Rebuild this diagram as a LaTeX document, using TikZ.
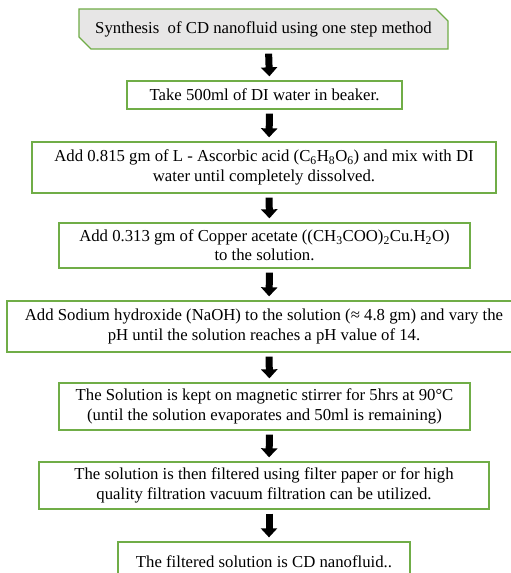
\documentclass[tikz,border=0pt]{standalone}
\usepackage{fontspec}
\setmainfont{Liberation Serif}
\usetikzlibrary{arrows.meta,shapes.misc}

\definecolor{boxgreen}{HTML}{70AD47}
\definecolor{boxgray}{HTML}{E7E6E6}

\begin{document}
\begin{tikzpicture}[x=1bp,y=-1bp,
  stepbox/.style={draw=boxgreen,line width=1.3bp,fill=white,align=center,inner sep=0pt,font=\fontsize{16.8}{19.5}\selectfont},
  bigarrow/.style={line width=7bp,-{Triangle[length=9bp,width=16bp]},shorten <=4bp,shorten >=4bp}]
\useasboundingbox (0,0) rectangle (511,573);
\clip (0,0) rectangle (511,573);
% start of the procedure
\node[stepbox,fill=boxgray,chamfered rectangle,chamfered rectangle corners={north east,south west},
  chamfered rectangle xsep=6bp,chamfered rectangle ysep=6bp,minimum width=369bp,minimum height=40bp] (s1) at (263.5,29){Synthesis \ of CD nanofluid using one step method};
\node[stepbox,minimum width=275bp,minimum height=28bp] (s2) at (264.5,95){Take 500ml of DI water in beaker.};
\node[stepbox,minimum width=464bp,minimum height=51bp] (s3) at (264,167.5){Add 0.815 gm of L - Ascorbic acid (C\textsubscript{6}H\textsubscript{8}O\textsubscript{6}) and mix with DI\\water until completely dissolved.};
\node[stepbox,minimum width=411bp,minimum height=45bp] (s4) at (264.5,245.5){Add 0.313 gm of Copper acetate ((CH\textsubscript{3}COO)\textsubscript{2}Cu.H\textsubscript{2}O)\\to the solution.};
\node[stepbox,minimum width=514bp,minimum height=51bp] (s5) at (264,326.5){Add Sodium hydroxide (NaOH) to the solution (≈ 4.8 gm) and vary the\\pH until the solution reaches a pH value of 14.};
\node[stepbox,minimum width=411bp,minimum height=47bp] (s6) at (264.5,406.5){The Solution is kept on magnetic stirrer for 5hrs at 90°C\\(until the solution evaporates and 50ml is remaining)};
\node[stepbox,minimum width=450bp,minimum height=47bp] (s7) at (264,485.5){The solution is then filtered using filter paper or for high\\quality filtration vacuum filtration can be utilized.};
\node[stepbox,minimum width=292bp,minimum height=40bp] (s8) at (264,562){The filtered solution is CD nanofluid..};
% block arrows between the steps
\foreach \a/\b in {s1/s2,s2/s3,s3/s4,s4/s5,s5/s6,s6/s7,s7/s8}{\draw[bigarrow] ([xshift=5bp]\a.south)--([xshift=5bp]\b.north);}
\end{tikzpicture}
\end{document}
